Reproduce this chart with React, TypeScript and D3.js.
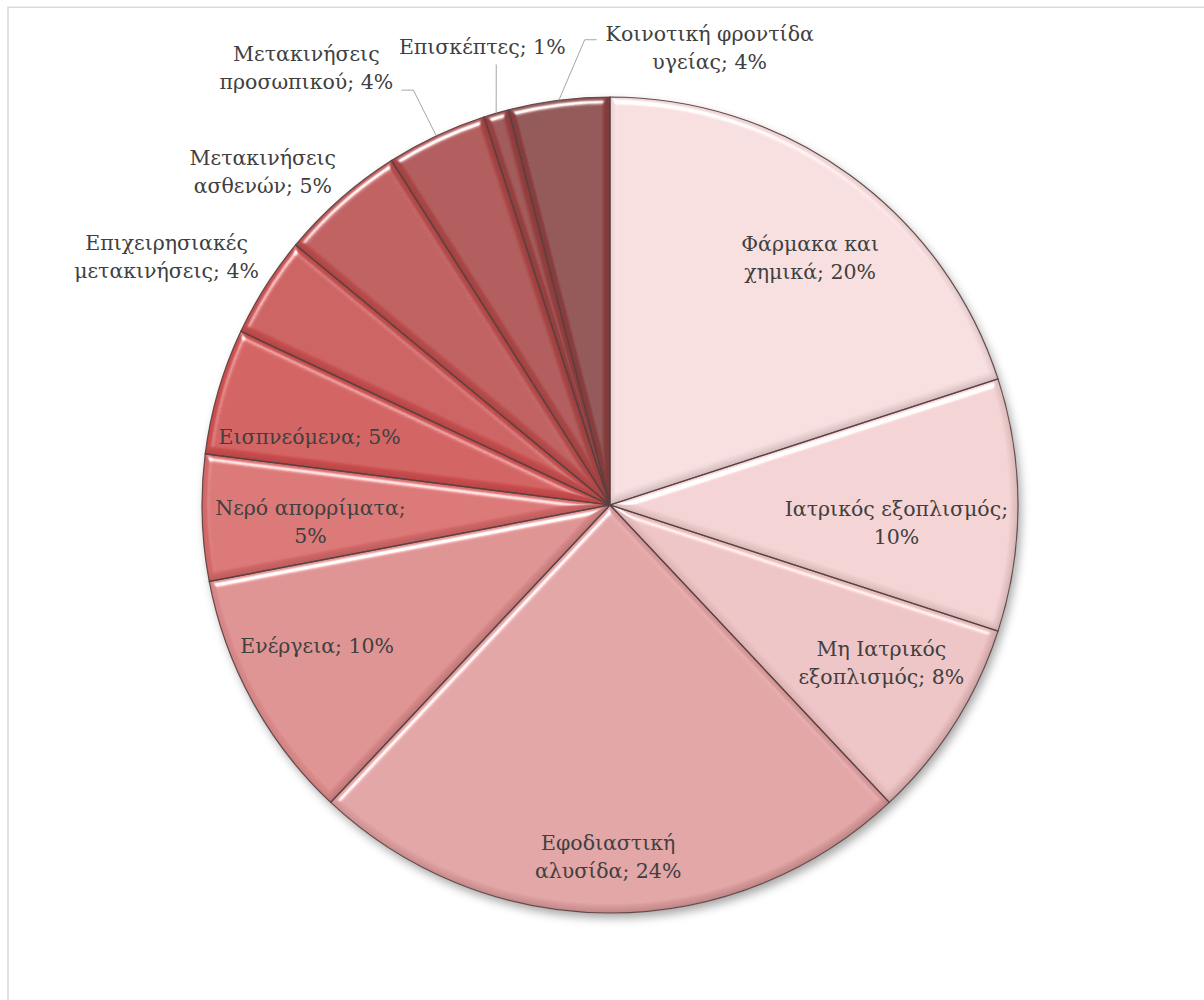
import React from "react";
import * as d3 from "d3";

const categories = [
  "Φάρμακα και χημικά",
  "Ιατρικός εξοπλισμός",
  "Μη Ιατρικός εξοπλισμός",
  "Εφοδιαστική αλυσίδα",
  "Ενέργεια",
  "Νερό απορρίματα",
  "Εισπνεόμενα",
  "Επιχειρησιακές μετακινήσεις",
  "Μετακινήσεις ασθενών",
  "Μετακινήσεις προσωπικού",
  "Επισκέπτες",
  "Κοινοτική φροντίδα υγείας",
];
const values = [20, 10, 8, 24, 10, 5, 5, 4, 5, 4, 1, 4];
const colors = [
  "#f2d9da", "#efcdce", "#e9bebf", "#dc9d9e", "#da8a8a", "#d56b6b",
  "#cd5050", "#c64f4f", "#b94e4e", "#aa4747", "#994343", "#8a4141",
];
// words on first line of the label (0 = single line)
const breakAfter = [2, 2, 2, 1, 0, 2, 0, 1, 1, 1, 0, 2];
// label placement: [radius, angle in degrees from 12 o'clock]
const labelPolar: [number, number][] = [
  [318, 39], [287, 93.6], [314, 120.2], [352, 180.3], [325, 244.3], [300, 266.8],
  [308, 282.8], [508, 299.2], [481, 313.8], [532, 325.2], [475, 344.4], [468, 12.3],
];
// leader line anchor offsets relative to label centre (null = no leader)
const leaders: ([number, number][] | null)[] = [
  null, null, null, null, null, null, null, null, null,
  [[95, 22], [107, 22]],
  [[14, 17]],
  [[-113, -8], [-125, -8]],
];

const W = 1204;
const H = 1000;
const cx = 610;
const cy = 505;
const R = 408;
const FONT = "'DejaVu Serif', serif";
const FS = 20.5;
const LH = 28;

export default function App() {
  const pie = d3.pie<number>().sort(null).value((d) => d);
  const arcs = pie(values);
  const arc = d3.arc<d3.PieArcDatum<number>>().innerRadius(0).outerRadius(R);

  const polar = (r: number, deg: number): [number, number] => {
    const a = (deg * Math.PI) / 180;
    return [cx + r * Math.sin(a), cy - r * Math.cos(a)];
  };

  return (
    <svg
      width={W}
      height={H}
      style={{ position: "absolute", left: 0, top: 0, display: "block" }}
    >
      <defs>
        <filter id="shadow" x="-10%" y="-10%" width="120%" height="125%">
          <feDropShadow dx="3" dy="5" stdDeviation="5" floodColor="#000" floodOpacity="0.35" />
        </filter>
        <filter id="bevel" x="-5%" y="-5%" width="110%" height="110%">
          <feGaussianBlur in="SourceAlpha" stdDeviation="3" result="blur" />
          <feSpecularLighting
            in="blur"
            surfaceScale="5"
            specularConstant="1.3"
            specularExponent="32"
            lightingColor="#ffffff"
            result="spec"
          >
            <feDistantLight azimuth="250" elevation="40" />
          </feSpecularLighting>
          <feComposite in="spec" in2="SourceAlpha" operator="in" result="specIn" />
          <feOffset in="blur" dx="-2" dy="-3" result="off" />
          <feComposite in="SourceAlpha" in2="off" operator="out" result="edge" />
          <feFlood floodColor="#3a1a1a" floodOpacity="0.35" result="dk" />
          <feComposite in="dk" in2="edge" operator="in" result="shade" />
          <feComposite in="SourceGraphic" in2="specIn" operator="arithmetic" k1="0" k2="1" k3="0.9" k4="0" result="lit" />
          <feMerge>
            <feMergeNode in="lit" />
            <feMergeNode in="shade" />
          </feMerge>
        </filter>
        {colors.map((c, i) => {
          const h = d3.hsl(c);
          const dark = h.l < 0.75;
          const inner = d3
            .hsl(h.h, Math.min(1, h.s * (dark ? 1.7 : 1.05)), h.l * (dark ? 0.84 : 0.98))
            .formatHex();
          return (
            <radialGradient
              key={i}
              id={`g${i}`}
              gradientUnits="userSpaceOnUse"
              cx={cx}
              cy={cy}
              r={R}
            >
              <stop offset="0%" stopColor={inner} />
              <stop offset="100%" stopColor={c} />
            </radialGradient>
          );
        })}
      </defs>
      <rect x={0} y={0} width={W} height={H} fill="#ffffff" />
      <rect x={8} y={7.3} width={W + 50} height={H + 50} fill="#ffffff" stroke="#d9d9d9" strokeWidth={1.5} />

      <circle cx={cx} cy={cy} r={R} fill="#c88" filter="url(#shadow)" />
      <g transform={`translate(${cx},${cy})`}>
        {arcs.map((a, i) => (
          <path
            key={i}
            d={arc(a) || ""}
            fill={`url(#g${i})`}
            filter="url(#bevel)"
          />
        ))}
        {arcs.map((a, i) => (
          <path
            key={"s" + i}
            d={arc(a) || ""}
            fill="none"
            stroke="#5a4040"
            strokeWidth={1.2}
            strokeOpacity={0.9}
          />
        ))}
      </g>

      {arcs.map((a, i) => {
        const lead = leaders[i];
        if (!lead) return null;
        const [lx, ly] = polar(labelPolar[i][0], labelPolar[i][1]);
        const mid = (((a.startAngle + a.endAngle) / 2) * 180) / Math.PI;
        const edge = polar(R, mid);
        const pts: [number, number][] = [
          ...lead.map(([dx, dy]) => [lx + dx, ly + dy] as [number, number]),
          edge,
        ];
        return (
          <path
            key={"l" + i}
            d={d3.line()(pts) || ""}
            fill="none"
            stroke="#a6a6a6"
            strokeWidth={1}
          />
        );
      })}

      {categories.map((c, i) => {
        const full = `${c}; ${values[i]}%`;
        const words = full.split(" ");
        const lines =
          breakAfter[i] > 0
            ? [words.slice(0, breakAfter[i]).join(" "), words.slice(breakAfter[i]).join(" ")]
            : [full];
        const [lx, ly] = polar(labelPolar[i][0], labelPolar[i][1]);
        const y0 = ly - ((lines.length - 1) * LH) / 2;
        return (
          <text
            key={"t" + i}
            x={lx}
            textAnchor="middle"
            fontFamily={FONT}
            fontSize={FS}
            fill="#404040"
          >
            {lines.map((ln, j) => (
              <tspan key={j} x={lx} y={y0 + j * LH} dominantBaseline="central">
                {ln}
              </tspan>
            ))}
          </text>
        );
      })}
    </svg>
  );
}
